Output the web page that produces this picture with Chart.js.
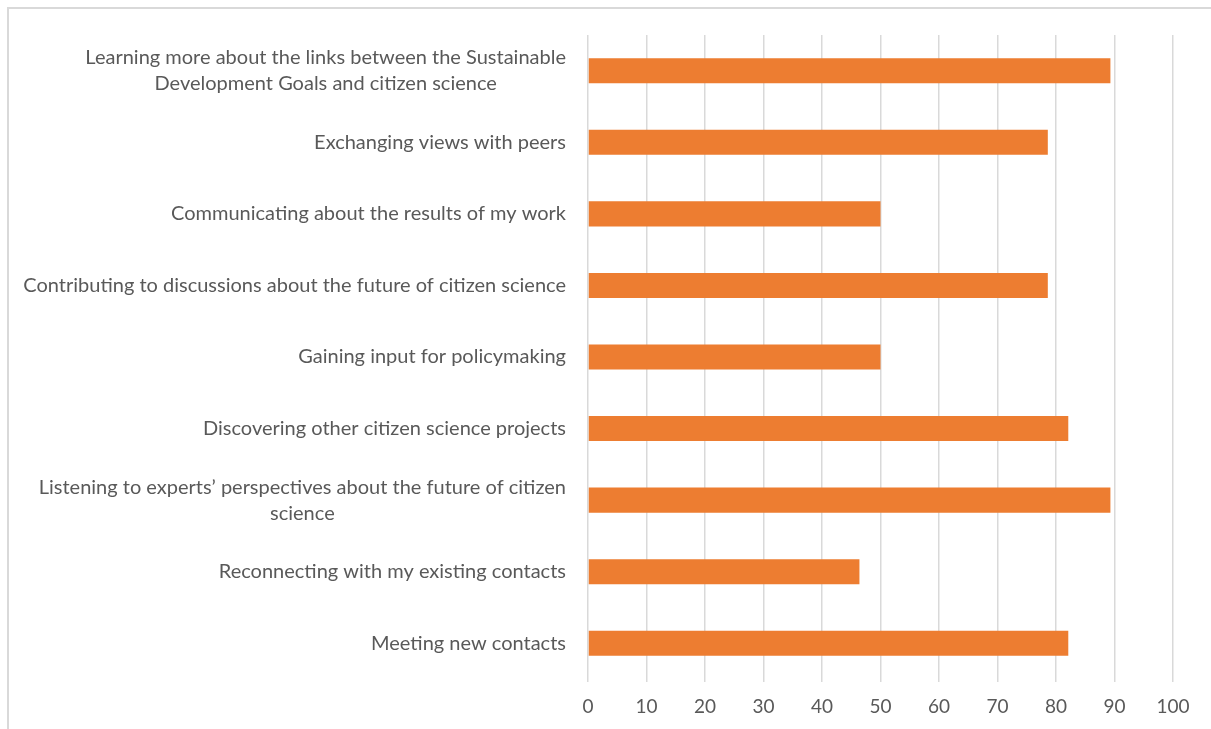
<!DOCTYPE html>
<html>
<head>
<meta charset="utf-8">
<script src="https://cdn.jsdelivr.net/npm/chart.js@4/dist/chart.umd.min.js"></script>
<style>
  html, body { margin: 0; padding: 0; background: #ffffff; }
  #wrap { position: relative; width: 1211px; height: 729px; overflow: hidden; }
  #frame {
    position: absolute; left: 7px; top: 7px; right: -4px; bottom: -4px;
    border-top: 2px solid #d9d9d9; border-left: 2px solid #d9d9d9;
  }
  canvas { position: absolute; left: 0; top: 0; }
</style>
</head>
<body>
<div id="wrap">
  <div id="frame"></div>
  <canvas id="chart" width="1211" height="729"></canvas>
</div>
<script>
// Survey answers: share of respondents (%) per reason for attending
const categories = [
  ['Learning more about the links between the Sustainable', 'Development Goals and citizen science'],
  'Exchanging views with peers',
  'Communicating about the results of my work',
  'Contributing to discussions about the future of citizen science',
  'Gaining input for policymaking',
  'Discovering other citizen science projects',
  ['Listening to experts\u2019 perspectives about the future of citizen', 'science'],
  'Reconnecting with my existing contacts',
  'Meeting new contacts'
];
const shares = [89.3, 78.6, 50, 78.6, 50, 82.1, 89.3, 46.4, 82.1];
const xTicks = [0, 10, 20, 30, 40, 50, 60, 70, 80, 90, 100];

const FONT = 'Lato, "Open Sans", sans-serif';
const TEXT = '#595959';

// Wrapped category labels: centre each line within the right-aligned block
const centerWrappedLabels = {
  id: 'centerWrappedLabels',
  beforeDraw(chart) {
    const scale = chart.scales.y;
    const items = scale.getLabelItems();
    const ctx = chart.ctx;
    for (const item of items) {
      if (!Array.isArray(item.label) || item._centred) continue;
      ctx.save();
      ctx.font = item.font.string;
      const w = Math.max(...item.label.map(l => ctx.measureText(l).width));
      ctx.restore();
      item.options.textAlign = 'center';
      item.options.translation[0] -= w / 2;
      item._centred = true;
    }
  }
};

new Chart(document.getElementById('chart'), {
  type: 'bar',
  data: {
    labels: categories,
    datasets: [{
      data: shares,
      backgroundColor: '#ED7D31',
      borderWidth: 0,
      categoryPercentage: 1,
      barPercentage: 0.35
    }]
  },
  options: {
    indexAxis: 'y',
    responsive: false,
    animation: false,
    layout: { padding: { top: 35, right: 38, left: 0, bottom: 0 } },
    plugins: { legend: { display: false }, tooltip: { enabled: false } },
    scales: {
      x: {
        min: 0, max: 100,
        afterBuildTicks(scale) { scale.ticks = xTicks.map(v => ({ value: v })); },
        afterFit(scale) { scale.height = 50; },
        grid: { color: '#d9d9d9', lineWidth: 1.5, tickLength: 3, drawTicks: true },
        border: { display: false },
        ticks: { color: TEXT, font: { family: FONT, size: 19 }, padding: 13, maxRotation: 0 }
      },
      y: {
        afterFit(scale) { scale.width = 588; },
        grid: { display: false, drawTicks: false },
        border: { display: false },
        ticks: { color: TEXT, font: { family: FONT, size: 20, lineHeight: 1.3 }, padding: 22, autoSkip: false }
      }
    }
  },
  plugins: [centerWrappedLabels]
});
</script>
</body>
</html>
